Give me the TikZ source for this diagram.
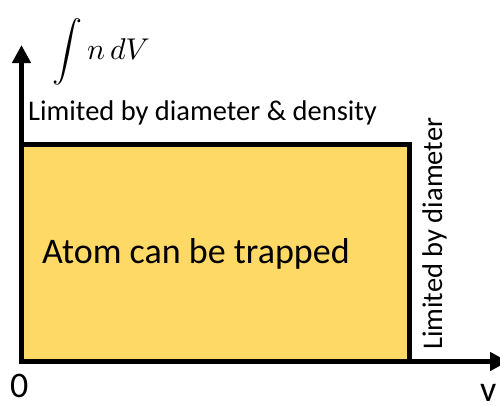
\documentclass[tikz,border=0pt]{standalone}
\usepackage{fontspec}
\setmainfont{Carlito}
\usetikzlibrary{arrows.meta}
\definecolor{gold}{RGB}{255,217,102}
\begin{document}
\begin{tikzpicture}[x=1pt,y=-1pt,
  axis/.style={line width=5pt,-{Triangle[length=18pt,width=18pt]}},
  lbl/.style={inner sep=0pt,font=\fontsize{28.5}{34}\selectfont},
  big/.style={inner sep=0pt,font=\fontsize{36}{42}\selectfont}]
\useasboundingbox (0,0) rectangle (500,405);
\fill[white] (0,0) rectangle (500,405);
\coordinate (o) at (21.5,361.5);
\coordinate (ytop) at (21.5,45);
\coordinate (xend) at (508,361.5);
\node[draw=black,fill=gold,line width=5pt,minimum width=388pt,minimum height=217pt,anchor=south west,inner sep=0pt,outer sep=0pt] (box) at (o) {};
\draw[axis] (o) -- (ytop);
\draw[axis] (o) -- (xend);
\node[inner sep=0pt,scale=3.0] (int) at (101,52) {$\displaystyle\int n\,dV$};
\node[lbl,anchor=base west] (top) at (28,120) {Limited by diameter \& density};
\node[lbl,anchor=base west,rotate=90] (side) at (442,350) {Limited by diameter};
\node[big,anchor=base west] (atom) at (42,263.5) {Atom can be trapped};
\node[big,anchor=base west] (zero) at (10,397) {0};
\node[big,anchor=base west] (v) at (480,401) {v};
\end{tikzpicture}
\end{document}
